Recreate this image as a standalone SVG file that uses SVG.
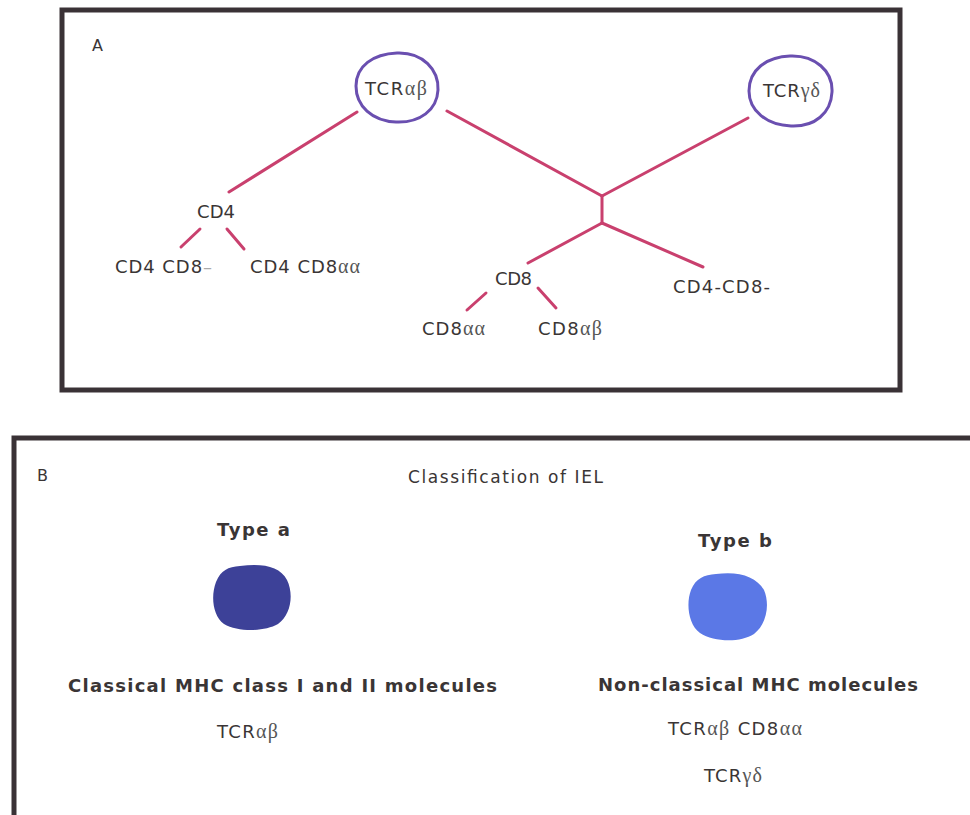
<svg xmlns="http://www.w3.org/2000/svg" width="970" height="815" viewBox="0 0 970 815">
<style>
.frame{fill:none;stroke:#3a3236;stroke-width:5}
.node{fill:none;stroke:#6a4fb0;stroke-width:3}
.conn{stroke:#c9406e;stroke-width:3;stroke-linecap:round;fill:none}
.t{font-family:"DejaVu Sans","Noto Sans",sans-serif;fill:#3a3535;font-size:18px}
.g{font-family:"Liberation Serif","DejaVu Serif",serif;fill:#555;font-size:20px}
.b{font-family:"DejaVu Sans","Noto Sans",sans-serif;fill:#3a3535;font-weight:bold;font-size:18px}
.lab{font-family:"DejaVu Sans",sans-serif;fill:#3a3535;font-size:16px}
</style>
<rect width="970" height="815" fill="#ffffff"/>
<g id="panelA">
<rect class="frame" x="62" y="10" width="838" height="380"/>
<text class="lab" x="92" y="51">A</text>
</g>
<g id="connectors">
<line class="conn" x1="357" y1="112" x2="229" y2="192"/>
<line class="conn" x1="447" y1="111" x2="602" y2="196"/>
<line class="conn" x1="748" y1="118" x2="602" y2="196"/>
<line class="conn" x1="602" y1="196" x2="602" y2="223"/>
<line class="conn" x1="602" y1="223" x2="528" y2="263"/>
<line class="conn" x1="602" y1="223" x2="703" y2="267"/>
<line class="conn" x1="200" y1="229" x2="181" y2="247"/>
<line class="conn" x1="227" y1="229" x2="244" y2="249"/>
<line class="conn" x1="486" y1="293" x2="467" y2="310"/>
<line class="conn" x1="538" y1="288" x2="556" y2="308"/>
</g>
<g id="tcrab">
<path class="node" d="M397 53 C423 52 439 70 438 90 C437 110 420 123 396 122 C372 121 356 106 356 86 C356 66 373 54 397 53 Z"/>
<text class="t" x="365" y="95" textLength="62" lengthAdjust="spacing">TCR<tspan class="g">αβ</tspan></text>
</g>
<g id="tcrgd">
<path class="node" d="M790 56 C815 55 833 71 832 92 C831 113 815 127 791 126 C767 125 749 111 749 91 C749 70 766 57 790 56 Z"/>
<text class="t" x="763" y="97" textLength="57" lengthAdjust="spacing">TCR<tspan class="g">γδ</tspan></text>
</g>
<g id="cd4"><text class="t" x="197" y="218" textLength="38" lengthAdjust="spacing">CD4</text></g>
<g id="cd4cd8neg"><text class="t" x="115" y="273" textLength="97" lengthAdjust="spacing">CD4 CD8<tspan fill="#aaa">–</tspan></text></g>
<g id="cd4cd8aa"><text class="t" x="250" y="273" textLength="110" lengthAdjust="spacing">CD4 CD8<tspan class="g">αα</tspan></text></g>
<g id="cd8"><text class="t" x="495" y="285" textLength="37" lengthAdjust="spacing">CD8</text></g>
<g id="cd8aa"><text class="t" x="422" y="335" textLength="63" lengthAdjust="spacing">CD8<tspan class="g">αα</tspan></text></g>
<g id="cd8ab"><text class="t" x="538" y="335" textLength="64" lengthAdjust="spacing">CD8<tspan class="g">αβ</tspan></text></g>
<g id="dn"><text class="t" x="673" y="293" textLength="97" lengthAdjust="spacing">CD4-CD8-</text></g>

<g id="panelB">
<rect class="frame" x="14" y="438" width="990" height="420"/>
<text class="lab" x="37" y="481">B</text>
<text class="t" x="408" y="483" textLength="195" lengthAdjust="spacing" style="font-size:17px">Classification of IEL</text>
</g>
<g id="typeA">
<text class="b" x="217" y="536" textLength="73" lengthAdjust="spacing">Type a</text>
<path d="M240 566 C262 563 280 566 287 580 C294 594 291 615 278 624 C264 632 238 632 224 624 C212 615 211 595 216 582 C221 570 228 567 240 566 Z" fill="#3d4198"/>
<text class="b" x="68" y="692" textLength="429" lengthAdjust="spacing">Classical MHC class I and II molecules</text>
<text class="t" x="217" y="738" textLength="61" lengthAdjust="spacing">TCR<tspan class="g">αβ</tspan></text>
</g>
<g id="typeB">
<text class="b" x="698" y="547" textLength="74" lengthAdjust="spacing">Type b</text>
<path d="M716 574 C738 571 756 576 764 590 C770 604 767 624 754 634 C740 643 714 642 700 633 C688 624 686 603 691 590 C696 578 704 575 716 574 Z" fill="#5b78e6"/>
<text class="b" x="598" y="691" textLength="320" lengthAdjust="spacing">Non-classical MHC molecules</text>
<text class="t" x="668" y="735" textLength="134" lengthAdjust="spacing">TCR<tspan class="g">αβ</tspan> CD8<tspan class="g">αα</tspan></text>
<text class="t" x="704" y="782" textLength="58" lengthAdjust="spacing">TCR<tspan class="g">γδ</tspan></text>
</g>
</svg>
